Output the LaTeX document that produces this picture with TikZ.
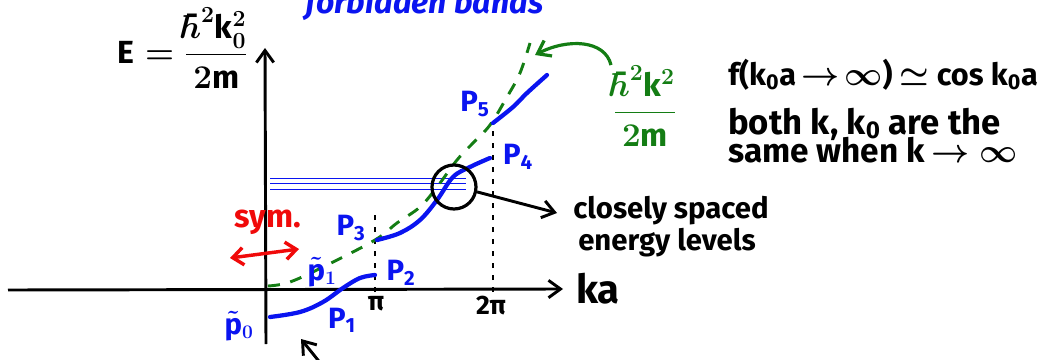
\documentclass[tikz,border=0pt]{standalone}
\usepackage{fontspec}
\setmainfont{Fira Sans}
\usetikzlibrary{arrows.meta}
\definecolor{pblue}{RGB}{10,20,240}
\definecolor{pgreen}{RGB}{20,125,20}
\definecolor{pred}{RGB}{240,10,10}
\begin{document}
\begin{tikzpicture}[x=0.75pt,y=-0.75pt,
  barb/.style={-{Straight Barb[length=9pt,width=13pt]}},
  axisline/.style={line width=2.2pt,black,barb},
  band/.style={line width=3.2pt,pblue,line cap=round},
  level/.style={line width=1.2pt,pblue},
  parab/.style={line width=2.2pt,pgreen,dash pattern=on 9pt off 8pt},
  guide/.style={line width=1.6pt,black,dash pattern=on 4pt off 5pt},
  hand/.style={font=\fontsize{22}{24}\selectfont\bfseries\boldmath,inner sep=0pt},
  lab/.style={font=\fontsize{22}{24}\selectfont\bfseries\boldmath,inner sep=0pt,text=pblue},
]
\useasboundingbox (0,0) rectangle (1053,360);

% axes
\coordinate (xs) at (8,290);
\coordinate (xe) at (563,289);
\coordinate (ys) at (266,344);
\coordinate (ye) at (265,48);
\draw[axisline] (xs) -- (xe);
\draw[axisline] (ys) -- (ye);

% guides
\coordinate (g1b) at (375,292);
\coordinate (g1t) at (375,210);
\coordinate (g2b) at (493,292);
\coordinate (g2t) at (493,125);
\draw[guide] (g1b) -- (g1t);
\draw[guide] (g2b) -- (g2t);

% closely spaced levels
\coordinate (l1a) at (270,178.5); \coordinate (l1b) at (466,178.5);
\coordinate (l2a) at (270,183.5); \coordinate (l2b) at (466,183.5);
\coordinate (l3a) at (270,189.5); \coordinate (l3b) at (466,189.5);
\draw[level] (l1a) -- (l1b);
\draw[level] (l2a) -- (l2b);
\draw[level] (l3a) -- (l3b);

% free-particle parabola
\draw[parab] plot[smooth,tension=0.6] coordinates {(268,286) (290,282) (327,265) (375,240) (397,223) (420,207) (437,187) (457,160) (473,143) (490,125) (507,97) (520,73) (530,43)};

% bands
\draw[band] plot[smooth,tension=0.6] coordinates {(270,317) (300,312) (323,302) (343,288) (360,278) (375,275)};
\draw[band] plot[smooth,tension=0.6] coordinates {(377,240) (400,233) (420,220) (437,200) (453,177) (470,167) (490,158)};
\draw[band] plot[smooth,tension=0.6] coordinates {(493,123) (513,107) (527,93) (547,75)};

% circle + arrow
\node[circle,draw,line width=2.4pt,minimum size=33pt,inner sep=0pt] (circ) at (454,187) {};
\coordinate (ctip) at (557,213);
\draw[line width=2.2pt,barb] (circ.-12) -- (ctip);

% labels on axes
\node[hand,anchor=base west,font=\fontsize{30}{32}\selectfont\bfseries] (ka) at (576,303) {ka};
\node[hand,font=\fontsize{20}{22}\selectfont\bfseries] (pi1) at (376,304) {π};
\node[hand,font=\fontsize{20}{22}\selectfont\bfseries] (pi2) at (491,306) {2π};
\node[hand,anchor=base west] (cs1) at (573,218) {closely spaced};
\node[hand,anchor=base west] (cs2) at (578,250) {energy levels};

% y-axis label
\node[hand,font=\fontsize{24}{26}\selectfont\bfseries\boldmath,anchor=east] (elab) at (248,48) {$\mathrm{E}=\displaystyle\frac{\hbar^2\mathrm{k}_0^2}{2\mathrm{m}}$};

% forbidden bands
\node[hand,font=\fontsize{24}{26}\selectfont\bfseries\itshape,text=pblue,anchor=base west] (fb) at (305,14) {forbidden bands};

% green label and arrow
\node[hand,font=\fontsize{24}{26}\selectfont\bfseries\boldmath,text=pgreen] (glab) at (645,106) {$\displaystyle\frac{\hbar^2\mathrm{k}^2}{2\mathrm{m}}$};
\coordinate (gs) at (611,65);
\coordinate (gt) at (535,55);
\draw[line width=2.4pt,pgreen,barb] (gs) .. controls (605,40) and (568,38) .. (gt);

% right text
\node[hand,font=\fontsize{23}{26}\selectfont\bfseries\boldmath,anchor=base west] (r1) at (728,85) {f(k\textsubscript{0}a\,$\mathord{\rightarrow}$\,$\mathord{\infty}$) $\mathord{\simeq}$ cos k\textsubscript{0}a};
\node[hand,font=\fontsize{26}{26}\selectfont\bfseries\boldmath,anchor=base west] (r2) at (728,134) {both k, k\textsubscript{0} are the};
\node[hand,font=\fontsize{25}{26}\selectfont\bfseries\boldmath,anchor=base west] (r3) at (728,162) {same when k$\,\rightarrow\infty$};

% point labels
\node[lab] (p0) at (239,326) {$\tilde{\mathrm{p}}_0$};
\node[lab] (pt1) at (322,272) {$\tilde{\mathrm{p}}_1$};
\node[lab] (p1) at (342,320) {P\textsubscript{1}};
\node[lab] (p2) at (401,273) {P\textsubscript{2}};
\node[lab] (p3) at (351,228) {P\textsubscript{3}};
\node[lab] (p4) at (518,157) {P\textsubscript{4}};
\node[lab] (p5) at (475,104) {P\textsubscript{5}};

% symmetry
\node[hand,font=\fontsize{24}{26}\selectfont\bfseries,text=pred] (sym) at (268,222) {sym.};
\coordinate (sa) at (230,258);
\coordinate (sb) at (299,249);
\draw[line width=2.6pt,pred,{Straight Barb[length=8pt,width=13pt]}-{Straight Barb[length=8pt,width=13pt]}] (sa) -- (sb);

% partial arrow at bottom
\coordinate (bt) at (330,375);
\coordinate (bh) at (301,339);
\draw[line width=2.2pt,barb] (bt) -- (bh);
\end{tikzpicture}
\end{document}
